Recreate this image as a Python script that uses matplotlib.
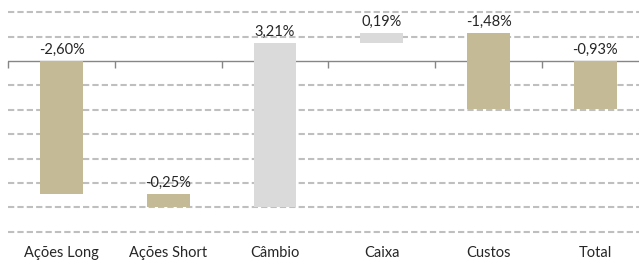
import numpy as np
import matplotlib
matplotlib.use('Agg')
from matplotlib import pyplot as plt

plt.rcParams['font.family'] = ['Lato', 'DejaVu Sans']
plt.rcParams['hatch.color'] = '#C4C4C4'
plt.rcParams['hatch.linewidth'] = 0.6

categories = ['Ações Long', 'Ações Short', 'Câmbio', 'Caixa', 'Custos', 'Total']
values = [-2.60, -0.25, 3.21, 0.19, -1.48]   # em %
total = round(sum(values), 2)

tan = '#C4BB96'
grey = '#DADADA'

# base de cada barra (waterfall)
ends = np.cumsum(values)
starts = np.concatenate([[0.0], ends[:-1]])
bottoms = list(np.minimum(starts, ends)) + [min(0.0, total)]
heights = list(np.abs(values)) + [abs(total)]
tops = [b + h for b, h in zip(bottoms, heights)]
all_vals = values + [total]

fig = plt.figure(figsize=(6.39, 2.63), dpi=100)
ax = fig.add_axes([0.013, 0.1027, 0.987, 0.8973])

x = np.arange(len(categories))
for i in range(len(categories)):
    pos = all_vals[i] > 0
    ax.bar(x[i], heights[i], bottom=bottoms[i], width=0.4,
           color=grey if pos else tan, edgecolor='none',
           hatch='....' if pos else None, zorder=3)
    ax.annotate(('%.2f%%' % all_vals[i]).replace('.', ','),
                (x[i], tops[i]), xytext=(0, 3), textcoords='offset points',
                ha='center', va='bottom', fontsize=10.5, color='#262626', zorder=4)

ax.set_xlim(-0.5, 5.41)
ax.set_ylim(-3.41, 1.19)

# grade tracejada
grid = [k * 0.475 for k in range(-7, 3) if k != 0]
ax.set_yticks(grid)
ax.yaxis.grid(True, color='#BFBFBF', linestyle=(0, (3, 1.5)), linewidth=1.5)
ax.tick_params(axis='y', length=0, labelleft=False)
ax.set_axisbelow(True)
ax.axhline(0, color='#868686', linewidth=1, zorder=2)

ax.set_xticks(x)
ax.set_xticklabels(categories, fontsize=10.5, color='#262626')
ax.tick_params(axis='x', length=0, pad=7)
for s in ax.spines.values():
    s.set_visible(False)

sec = ax.secondary_xaxis(0, transform=ax.transData)
sec.set_xticks(np.arange(-0.5, 5.5, 1.0))
sec.set_xticklabels([])
sec.tick_params(direction='out', length=5, color='#868686', width=1)
sec.spines['bottom'].set_visible(False)

fig.savefig('out.png', dpi=100)
